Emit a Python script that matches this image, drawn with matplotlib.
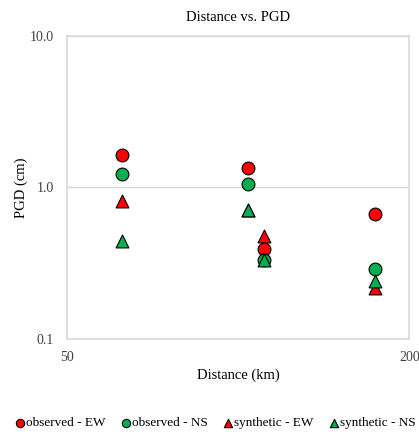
import matplotlib
matplotlib.use("Agg")
import matplotlib.pyplot as plt
from matplotlib.ticker import FixedLocator, FixedFormatter, NullLocator

plt.rcParams["font.family"] = ["Liberation Serif", "DejaVu Serif"]

# distances (km) and PGD (cm)
dist = [62.3, 104.0, 111.0, 174.0]
obs_ew = [1.65, 1.34, 0.394, 0.67]
obs_ns = [1.22, 1.05, 0.333, 0.29]
syn_ew = [0.81, 0.715, 0.48, 0.218]
syn_ns = [0.445, 0.715, 0.33, 0.243]

series = [
    ("observed - EW", obs_ew, "o", "#FF0000"),
    ("observed - NS", obs_ns, "o", "#00B050"),
    ("synthetic - EW", syn_ew, "^", "#FF0000"),
    ("synthetic - NS", syn_ns, "^", "#00B050"),
]

fig = plt.figure(figsize=(4.19, 4.34), dpi=100)
ax = fig.add_axes([0.161, 0.219, 0.816, 0.698])

for i, (label, vals, mk, col) in enumerate(series):
    ax.scatter(dist, vals, marker=mk, s=85, c=col, edgecolors="black",
               linewidths=0.8, label=label, zorder=3 + i)

ax.set_xscale("log")
ax.set_yscale("log")
ax.set_xlim(50, 200)
ax.set_ylim(0.1, 10)

ax.xaxis.set_major_locator(FixedLocator([50, 200]))
ax.xaxis.set_major_formatter(FixedFormatter(["50", "200"]))
ax.xaxis.set_minor_locator(NullLocator())
ax.yaxis.set_major_locator(FixedLocator([0.1, 1, 10]))
ax.yaxis.set_major_formatter(FixedFormatter(["0.1", "1.0", "10.0"]))
ax.yaxis.set_minor_locator(NullLocator())
ax.tick_params(length=0, labelsize=10, colors="#404040", pad=10)
ax.tick_params(axis="x", pad=9)

ax.grid(axis="y", color="#D9D9D9", linewidth=1)
for sp in ax.spines.values():
    sp.set_color("#D9D9D9")
    sp.set_linewidth(1.2)

ax.set_title("Distance vs. PGD", fontsize=10.5, pad=11)
ax.set_xlabel("Distance (km)", fontsize=10.5, labelpad=3)
ax.set_ylabel("PGD (cm)", fontsize=10.5, labelpad=1)

fig.legend(loc="lower center", bbox_to_anchor=(0.515, -0.01), ncol=4, frameon=False,
           fontsize=9.5, markerscale=0.65, handlelength=0.6, handletextpad=0.15,
           columnspacing=1.25, borderaxespad=0.3)

fig.savefig("out.png", dpi=100)
